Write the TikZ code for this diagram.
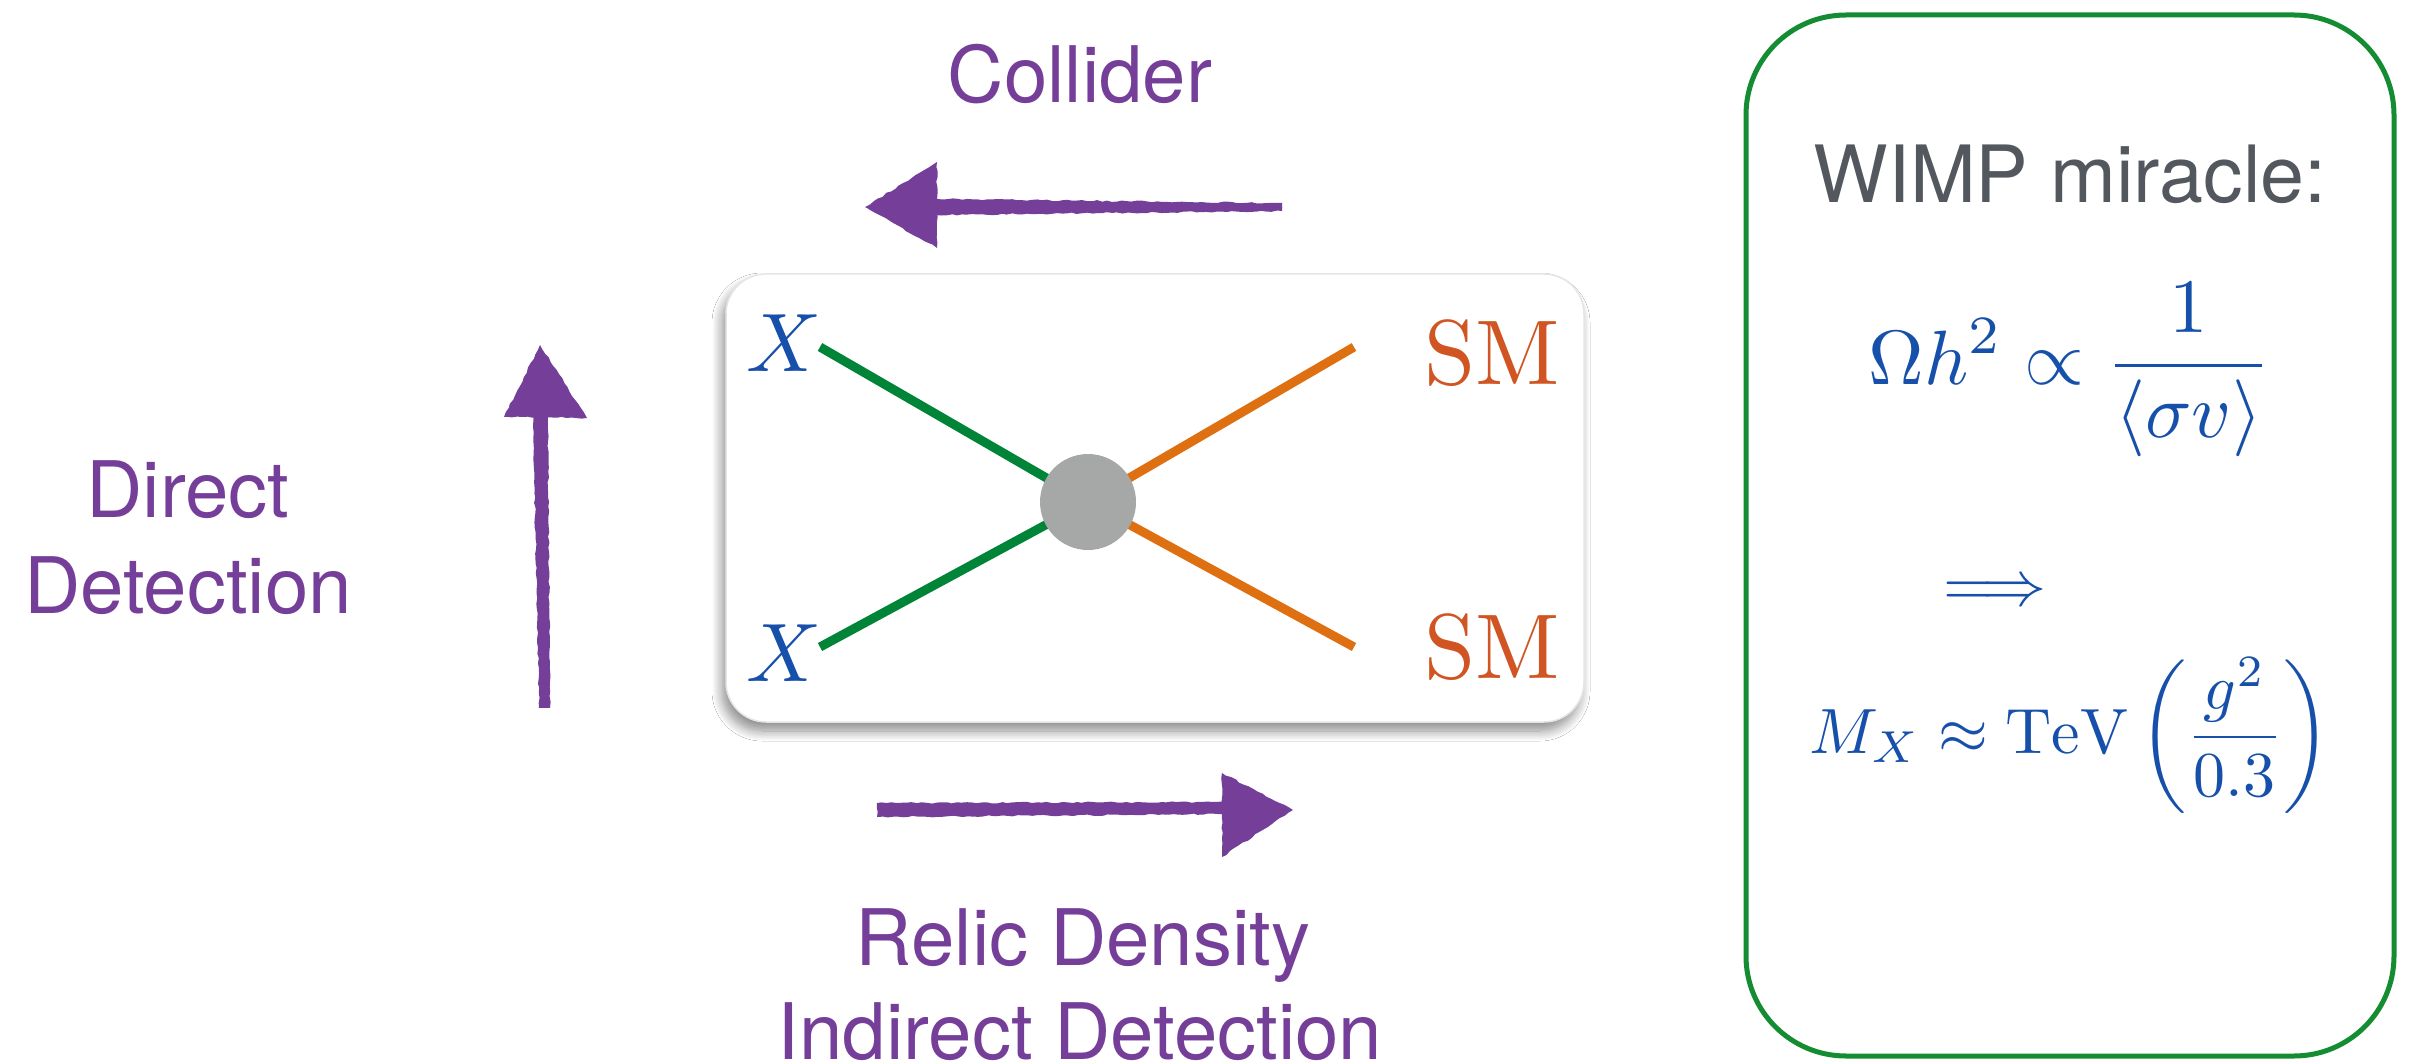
\documentclass[tikz,border=0pt]{standalone}
\usepackage{graphicx}
\usepackage{fontspec}
\newfontfamily\heros{TeX Gyre Heros}
\usetikzlibrary{shadows.blur,decorations.pathmorphing}
\definecolor{purp}{RGB}{117,63,153}
\definecolor{wgray}{RGB}{83,88,95}
\definecolor{mblue}{RGB}{22,80,170}
\definecolor{smorange}{RGB}{208,85,35}
\definecolor{lorange}{RGB}{222,112,18}
\definecolor{lgreen}{RGB}{0,132,55}
\definecolor{bgreen}{RGB}{20,140,50}
\definecolor{blobgray}{RGB}{165,168,166}
\tikzset{
  purplabel/.style={font=\heros\fontsize{78}{94}\selectfont, text=purp, inner sep=0pt, anchor=base},
  brush/.style={fill=purp, draw=none, decorate, decoration={random steps, segment length=5pt, amplitude=0.8pt}},
  procbox/.style={draw=black!10, line width=1.5pt, fill=white, rounded corners=40pt,
    blur shadow={shadow xshift=-4pt, shadow yshift=-9pt, shadow blur radius=10pt, shadow blur steps=12, shadow opacity=45}},
  xlabel/.style={text=mblue, inner sep=0pt, anchor=base},
  smlabel/.style={text=smorange, inner sep=0pt, anchor=base},
  gline/.style={draw=lgreen, line width=9pt},
  oline/.style={draw=lorange, line width=9pt},
  blob/.style={circle, fill=blobgray, minimum size=96pt, inner sep=0pt},
  wimpbox/.style={draw=bgreen, line width=5pt, rounded corners=100pt},
  formula/.style={text=mblue, inner sep=0pt, anchor=base},
}
\begin{document}
\begin{tikzpicture}[x=1pt,y=-1pt]
\pgfmathsetseed{7}
\useasboundingbox[fill=white] (0,0) rectangle (2410,1064);

% process box
\path[procbox] (726,274) rectangle (1584,722);

% diagram
\coordinate (c) at (1088,502);
\coordinate (x1) at (820,347);
\coordinate (x2) at (820,647);
\coordinate (s1) at (1354,347);
\coordinate (s2) at (1354,647);
\draw[gline] (x1) -- (c);
\draw[gline] (x2) -- (c);
\draw[oline] (c) -- (s1);
\draw[oline] (c) -- (s2);
\node[blob] (blobnode) at (c) {};
\node[xlabel] (xa) at (784,372) {\scalebox{8.3}{$X$}};
\node[xlabel] (xb) at (784,681) {\scalebox{8.3}{$X$}};
\node[smlabel] (sma) at (1492,385) {\scalebox{9.2}{$\mathrm{SM}$}};
\node[smlabel] (smb) at (1492,678) {\scalebox{9.2}{$\mathrm{SM}$}};

% purple labels
\node[purplabel] (collider) at (1080,103) {Collider};
\node[purplabel] (direct) at (188,517) {Direct};
\node[purplabel] (detection) at (188,613) {Detection};
\node[purplabel] (relic) at (1083,965) {Relic Density};
\node[purplabel] (indirect) at (1080,1059) {Indirect Detection};

% brush arrows
% collider (left)
\path[brush] (932,199) -- (1282,203) -- (1282,211) -- (932,215) -- cycle;
\path[brush] (865,207) -- (937,162) -- (937,248) -- cycle;
% relic density (right)
\path[brush] (877,803) -- (1228,802) -- (1228,814) -- (877,817) -- cycle;
\path[brush] (1293,810) -- (1222,773) -- (1222,857) -- cycle;
% direct detection (up)
\path[brush] (533,412) -- (548,412) -- (550,708) -- (539,708) -- cycle;
\path[brush] (540,345) -- (587,418) -- (504,417) -- cycle;

% WIMP box
\draw[wimpbox] (1746,15) rectangle (2394,1056);
\node[font=\heros\fontsize{79}{94}\selectfont, text=wgray, inner sep=0pt, anchor=base] (wimp) at (2070,203) {WIMP miracle:};
\node[formula] (omega) at (2070,385)
  {\scalebox{7.7}{$\displaystyle \Omega h^2 \propto \frac{1}{\langle \sigma v\rangle}$}};
\node[formula] (implies) at (1995,605) {\scalebox{6.4}{$\Longrightarrow$}};
\node[formula] (mass) at (2070,753)
  {\scalebox{6.4}{$\displaystyle M_X \approx \mathrm{TeV}\left(\frac{g^2}{0.3}\right)$}};
\end{tikzpicture}
\end{document}
